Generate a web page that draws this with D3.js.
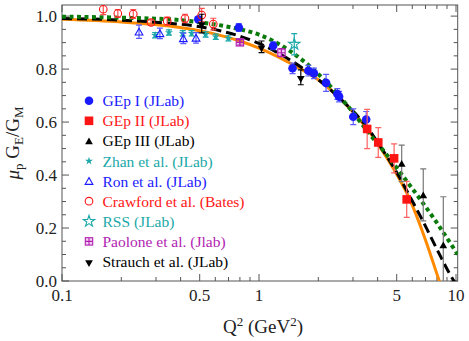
<!DOCTYPE html>
<html>
<head>
<meta charset="UTF-8">
<script src="https://cdn.jsdelivr.net/npm/d3@7"></script>
<style>
  body { margin: 0; background: #fff; }
  svg { display: block; }
  svg text { font-family: "Liberation Serif", "Times New Roman", Tinos, "Noto Serif", "DejaVu Serif", serif; }
</style>
</head>
<body>
<svg id="chart" width="469" height="341"></svg>
<script>
  // data points: [Q2, muGE/GM, error]
  const gepI = [[0.492, 0.988, 0.01], [0.79, 0.957, 0.015], [1.18, 0.888, 0.015], [1.48, 0.803, 0.02],
    [1.78, 0.794, 0.02], [1.90, 0.784, 0.02], [2.19, 0.748, 0.032], [2.50, 0.706, 0.02],
    [2.55, 0.696, 0.02], [3.01, 0.62, 0.03], [3.50, 0.61, 0.03]];
  const gepII = [[3.54, 0.574, 0.074], [4.03, 0.523, 0.056], [4.85, 0.463, 0.055], [5.62, 0.308, 0.068]];
  const gepIII = [[5.30, 0.444, 0.069], [6.82, 0.325, 0.098], [8.62, 0.136, 0.182]];
  const zhan = [[0.297, 0.928, 0.01], [0.349, 0.938, 0.01], [0.410, 0.935, 0.01], [0.455, 0.935, 0.01],
    [0.536, 0.931, 0.01], [0.603, 0.922, 0.01], [0.699, 0.916, 0.01]];
  const ron = [[0.246, 0.941, 0.025], [0.314, 0.935, 0.02], [0.413, 0.916, 0.02], [0.479, 0.918, 0.02]];
  const crawford = [[0.162, 1.026, 0.02], [0.192, 1.010, 0.015], [0.230, 1.008, 0.017], [0.283, 0.976, 0.01],
    [0.342, 0.981, 0.015], [0.421, 0.991, 0.016], [0.512, 1.004, 0.025], [0.586, 0.970, 0.022]];
  const rss = [[1.51, 0.894, 0.04]];
  const paolone = [[0.80, 0.901, 0.01], [1.30, 0.862, 0.015]];
  const strauch = [[0.512, 0.972, 0.035], [1.03, 0.884, 0.022], [1.63, 0.769, 0.028]];

  // fit curves: [Q2, value]
  const fitSolid = [[0.1, 0.988], [0.2, 0.978], [0.35, 0.963], [0.58, 0.935], [0.8, 0.906], [1.0, 0.879],
    [1.44, 0.822], [2.04, 0.755], [2.63, 0.683], [3.54, 0.574], [4.03, 0.515], [4.85, 0.42],
    [5.84, 0.306], [7.0, 0.155], [8.23, 0.0], [8.6, -0.04]];
  const fitDashed = [[0.1, 0.991], [0.2, 0.985], [0.3, 0.977], [0.52, 0.958], [0.77, 0.928], [1.0, 0.897],
    [1.44, 0.834], [2.04, 0.755], [2.63, 0.683], [3.54, 0.58], [4.03, 0.52], [5.0, 0.41],
    [5.96, 0.306], [6.7, 0.235], [8.0, 0.12], [9.77, 0.0], [10.2, -0.02]];
  const fitDotted = [[0.1, 0.998], [0.2, 0.994], [0.37, 0.987], [0.52, 0.975], [0.77, 0.953], [1.0, 0.93],
    [1.44, 0.868], [2.04, 0.775], [2.9, 0.65], [3.66, 0.553], [4.36, 0.485], [5.4, 0.394],
    [6.62, 0.306], [7.82, 0.23], [10.2, 0.1]];

  const xTickLabels = [0.1, 0.5, 1, 5, 10];
  const xMinorTicks = [0.2, 0.3, 0.4, 0.6, 0.7, 0.8, 0.9, 2, 3, 4, 6, 7, 8, 9];
  const yTicks = [0, 0.2, 0.4, 0.6, 0.8, 1.0];

  const series = [
    { name: "GEp I (JLab)", data: gepI, color: "#1a1aff", text: "#1a1aff", err: "#5a5aff", sym: "circle" },
    { name: "GEp II (JLab)", data: gepII, color: "#ff1414", text: "#ff1414", err: "#ff6060", sym: "square" },
    { name: "GEp III (JLab)", data: gepIII, color: "#000", text: "#000", err: "#777", sym: "triUp" },
    { name: "Zhan et al. (JLab)", data: zhan, color: "#1aa8a8", text: "#1aa8a8", err: "#1aa8a8", sym: "star" },
    { name: "Ron et al. (JLab)", data: ron, color: "#1a1aff", text: "#1a1aff", err: "#5a5aff", sym: "triOpen" },
    { name: "Crawford et al. (Bates)", data: crawford, color: "#ff1414", text: "#ff1414", err: "#ff5050", sym: "circleOpen" },
    { name: "RSS (JLab)", data: rss, color: "#1aa8a8", text: "#1aa8a8", err: "#1aa8a8", sym: "starOpen" },
    { name: "Paolone et al. (Jlab)", data: paolone, color: "#b21eb2", text: "#b21eb2", err: "#b21eb2", sym: "boxCross" },
    { name: "Strauch et al. (JLab)", data: strauch, color: "#000", text: "#000", err: "#000", sym: "triDown" }
  ];

  const svg = d3.select("#chart");
  const pLeft = 62, pRight = 457.7, pTop = 5, pBottom = 281;
  const x = d3.scaleLog().domain([0.1, 10.2]).range([pLeft, pRight]);
  const y = d3.scaleLinear().domain([0, 1.042]).range([pBottom, pTop]);

  svg.append("defs").append("clipPath").attr("id", "clip")
    .append("rect").attr("x", pLeft).attr("y", pTop).attr("width", pRight - pLeft).attr("height", pBottom - pTop);

  // frame and ticks
  const axisColor = "#555";
  svg.append("rect").attr("x", pLeft).attr("y", pTop).attr("width", pRight - pLeft).attr("height", pBottom - pTop)
    .attr("fill", "none").attr("stroke", axisColor).attr("stroke-width", 1);

  const ticks = svg.append("g").attr("stroke", axisColor).attr("stroke-width", 1);
  xTickLabels.concat(xMinorTicks).forEach(v => {
    const len = xTickLabels.includes(v) ? 7 : 4;
    ticks.append("line").attr("x1", x(v)).attr("x2", x(v)).attr("y1", pBottom).attr("y2", pBottom - len);
    ticks.append("line").attr("x1", x(v)).attr("x2", x(v)).attr("y1", pTop).attr("y2", pTop + len);
  });
  d3.range(0, 1.0001, 0.05).forEach(v => {
    const major = yTicks.some(t => Math.abs(t - v) < 1e-6);
    const len = major ? 7 : 4;
    ticks.append("line").attr("x1", pLeft).attr("x2", pLeft + len).attr("y1", y(v)).attr("y2", y(v));
    ticks.append("line").attr("x1", pRight).attr("x2", pRight - len).attr("y1", y(v)).attr("y2", y(v));
  });

  svg.append("g").selectAll("text").data(xTickLabels).join("text")
    .attr("x", d => x(d)).attr("y", 301).attr("text-anchor", "middle")
    .attr("font-size", 17).attr("fill", "#222").text(d => d);
  svg.append("g").selectAll("text").data(yTicks).join("text")
    .attr("x", 57).attr("y", d => y(d) + 5.5).attr("text-anchor", "end")
    .attr("font-size", 17).attr("fill", "#222").text(d => d3.format(".1f")(d));

  // axis titles
  const xt = svg.append("text").attr("x", 263).attr("y", 333).attr("text-anchor", "middle")
    .attr("font-size", 19).attr("fill", "#222");
  xt.append("tspan").text("Q");
  xt.append("tspan").attr("font-size", 13).attr("dy", -7).text("2");
  xt.append("tspan").attr("dy", 7).text(" (GeV");
  xt.append("tspan").attr("font-size", 13).attr("dy", -7).text("2");
  xt.append("tspan").attr("dy", 7).text(")");

  const yt = svg.append("text").attr("transform", "translate(19,143) rotate(-90)")
    .attr("text-anchor", "middle").attr("font-size", 19).attr("fill", "#222");
  yt.append("tspan").attr("font-style", "italic").text("μ");
  yt.append("tspan").attr("font-size", 13).attr("dy", 4).text("p");
  yt.append("tspan").attr("dy", -4).text(" G");
  yt.append("tspan").attr("font-size", 13).attr("dy", 4).text("E");
  yt.append("tspan").attr("dy", -4).text("/G");
  yt.append("tspan").attr("font-size", 13).attr("dy", 4).text("M");

  // fit curves
  const plot = svg.append("g").attr("clip-path", "url(#clip)");
  const line = d3.line().x(d => x(d[0])).y(d => y(d[1])).curve(d3.curveMonotoneX);
  plot.append("path").datum(fitSolid).attr("d", line).attr("fill", "none")
    .attr("stroke", "#ff8a00").attr("stroke-width", 3);
  plot.append("path").datum(fitDashed).attr("d", line).attr("fill", "none")
    .attr("stroke", "#000").attr("stroke-width", 3).attr("stroke-dasharray", "10,5");
  plot.append("path").datum(fitDotted).attr("d", line).attr("fill", "none")
    .attr("stroke", "#0a7a0a").attr("stroke-width", 4).attr("stroke-dasharray", "4,3.5");

  function drawMarker(g, sym, color) {
    if (sym === "circle") {
      g.append("circle").attr("r", 4.3).attr("fill", color);
    } else if (sym === "circleOpen") {
      g.append("circle").attr("r", 3.8).attr("fill", "none").attr("stroke", color).attr("stroke-width", 1.1);
    } else if (sym === "square") {
      g.append("rect").attr("x", -4.3).attr("y", -4.3).attr("width", 8.6).attr("height", 8.6).attr("fill", color);
    } else if (sym === "triUp" || sym === "triDown") {
      g.append("path").attr("d", d3.symbol(d3.symbolTriangle, 26)())
        .attr("transform", sym === "triDown" ? "rotate(180) translate(0,-1)" : "translate(0,1)")
        .attr("fill", color);
    } else if (sym === "triOpen") {
      g.append("path").attr("d", d3.symbol(d3.symbolTriangle, 26)()).attr("transform", "translate(0,1)")
        .attr("fill", "none").attr("stroke", color).attr("stroke-width", 1.1);
    } else if (sym === "star") {
      g.append("path").attr("d", d3.symbol(d3.symbolStar, 20)()).attr("fill", color);
    } else if (sym === "starOpen") {
      g.append("path").attr("d", d3.symbol(d3.symbolStar, 40)()).attr("fill", "none")
        .attr("stroke", color).attr("stroke-width", 1.1);
    } else if (sym === "boxCross") {
      g.append("rect").attr("x", -3.7).attr("y", -3.7).attr("width", 7.4).attr("height", 7.4)
        .attr("fill", color).attr("fill-opacity", 0.2).attr("stroke", color).attr("stroke-width", 1.1);
      g.append("path").attr("d", "M-3.7,0H3.7M0,-3.7V3.7").attr("stroke", color).attr("stroke-width", 1.1);
    }
  }

  // data points with error bars
  series.forEach(s => {
    const g = plot.append("g");
    s.data.forEach(d => {
      const px = x(d[0]), y1 = y(d[1] - d[2]), y2 = y(d[1] + d[2]);
      g.append("path").attr("d", `M${px},${y1}V${y2}M${px - 3},${y1}H${px + 3}M${px - 3},${y2}H${px + 3}`)
        .attr("stroke", s.err).attr("stroke-width", 1.2).attr("fill", "none");
    });
    s.data.forEach(d => {
      drawMarker(g.append("g").attr("transform", `translate(${x(d[0])},${y(d[1])})`), s.sym, s.color);
    });
  });

  // legend
  const legend = svg.append("g");
  series.forEach((s, i) => {
    const ly = 100.7 + i * 20.1;
    drawMarker(legend.append("g").attr("transform", `translate(89,${ly})`), s.sym, s.color);
    legend.append("text").attr("x", 102.5).attr("y", ly + 5.5).attr("font-size", 15.5)
      .attr("fill", s.text).text(s.name);
  });
</script>
</body>
</html>
